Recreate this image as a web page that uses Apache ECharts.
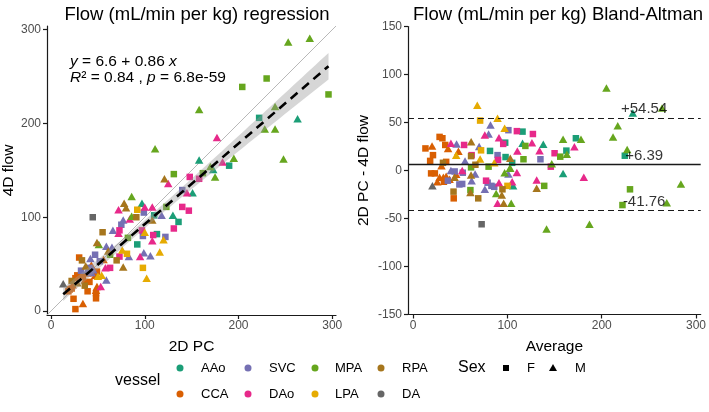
<!DOCTYPE html>
<html><head><meta charset="utf-8">
<script src="https://cdn.jsdelivr.net/npm/echarts@6/dist/echarts.min.js"></script>
<style>html,body{margin:0;padding:0;background:#fff}#c{width:709px;height:412px}</style>
</head><body><div id="c"></div>
<script>
// ---------- categories ----------
const vessels = ['AAo','CCA','SVC','DAo','MPA','LPA','RPA','DA'];
const vesselColors = ['#1B9E77','#D95F02','#7570B3','#E7298A','#66A61E','#E6AB02','#A6761D','#666666'];
const sexes = ['F','M'];
const regTicks = [0,100,200,300];
const baXTicks = [0,100,200,300];

// ---------- regression panel: 2D PC vs 4D flow ----------
const regPC = [253,276,230,204,296,158,239,222,263,228, 239,177,111,158,195,248,183,190,170,173,
 162,175,158,121,131,125,148,151,145,140, 86,97,100,108,123,78,80,72,92,140,
 147,110,130,86,84,77,91,99,108,118, 136,44.5,75,66,73,72,55,97,100,98,
 109,113,108,131,120,122,82,92,51,49, 59,65,61,63,76,81,73,70,83,95,
 99,106,116,63,58,98,102,77,59,30, 33,47,42,52,56,32,39,43,41,43,
 37,34,33,40,47,49,50,26,22,23, 36,41,39,18.5,22,49,48,48,48,53,
 24,34,26,13,28,45,54,36,20,28];
const regFlow = [287,291,248,239,231,215,218,206,205,194, 194,185,173,161,163,162,159,155,154,151,
 147,143,141,141,146,136,143,126,126,129, 122,115,111,111,111,115,110,108,108,111,
 107,102,102,101,98,97,100,105,97,102, 95,100,92,86,86,83,84,86,84,80,
 81,82,75,88,76,79,78,71,71,73, 69,68,64,60,65,61,58,54,58,58,
 62,59,63,46,46,46,35,47,33,57, 54,60,56,53,55,43,44,41,46,49,
 48,37,40,40,38,42,37,35,32,28, 27,31,21,21,24,26,22,19,13.5,26,
 13,8,2,29,38,44,38,33,23,30];
const regVessel = ['MPA','MPA','MPA','MPA','MPA','MPA','MPA','AAo','AAo','MPA',
 'MPA','DAo','MPA','AAo','MPA','MPA','DAo','AAo','MPA','AAo',
 'MPA','MPA','DAo','RPA','MPA','DAo','DAo','AAo','DAo','SVC',
 'MPA','AAo','DAo','DAo','MPA','RPA','RPA','DAo','LPA','DAo',
 'DAo','AAo','AAo','MPA','DAo','SVC','RPA','SVC','RPA','SVC',
 'AAo','DA','SVC','SVC','DAo','DAo','RPA','DAo','LPA','SVC',
 'DAo','AAo','DAo','DAo','LPA','SVC','MPA','AAo','MPA','RPA',
 'SVC','SVC','RPA','MPA','LPA','LPA','DAo','RPA','SVC','DAo',
 'SVC','SVC','LPA','DAo','DAo','LPA','LPA','RPA','SVC','CCA',
 'RPA','SVC','SVC','SVC','CCA','SVC','SVC','SVC','SVC','CCA',
 'RPA','CCA','CCA','CCA','CCA','CCA','LPA','CCA','RPA','CCA',
 'RPA','CCA','CCA','CCA','CCA','CCA','CCA','CCA','CCA','DAo',
 'CCA','CCA','CCA','DA','CCA','SVC','LPA','CCA','CCA','RPA'];
const regSex = ['M','M','F','F','F','M','M','F','M','M', 'M','M','M','M','M','M','M','F','M','M',
 'F','M','F','M','F','M','F','M','M','F', 'M','M','M','M','F','M','M','M','F','F',
 'F','F','M','M','M','M','F','F','M','M', 'F','F','F','M','F','M','F','F','M','F',
 'F','F','M','F','M','F','F','F','M','M', 'M','M','M','F','M','F','F','F','M','M',
 'M','M','M','F','M','F','M','M','M','F', 'F','F','M','F','M','F','M','M','F','M',
 'M','F','M','F','M','F','M','F','F','M', 'F','F','F','F','F','M','M','F','F','M',
 'F','M','F','M','F','M','M','M','F','M'];
const regIntercept = 6.6, regSlope = 0.86, regR2 = '0.84', regP = '6.8e-59';

// ---------- Bland-Altman panel: average vs difference ----------
const baAvg = [205,264,233,68,71,89.5,217,212,97,101, 82,80,76,110,116,127,31,13,20,34,
 37,40,46,61.5,91,95.5,97.6,70,72,81.5, 110.5,116,119,126,138,134,159,172.6,178,162.5,
 171,163,156,227,224.5,150,135,117,105,90, 102.5,80,146,147,54,62,89.5,103,18,28,
 21,31.6,35,45.6,61.4,71,19,23,28,32, 35,25.6,32.6,38.6,44,44,40,36.8,20.4,45.6,
 42.8,43,49,52,52.6,61.4,65.7,61.4,62,60.7, 60.7,69,72.6,77.3,76,79,83,86,88,89.5,
 96,94,91,94.7,97,100,103,101,105,106, 110,104,131,131,139,159,181,141.5,187,222,
 230,269,284,30,55,66,48,86,52,98];
const baDiff = [86,65,60,68,52,54.5,46.5,35,44,42, 47.5,38,37,41,40.5,38,33.6,23,25.6,26.6,
 23,28.4,27.7,30,34,27.7,29,25,21,20.4, 20.4,28.4,25.6,29,27.3,20.7,32.6,33.6,32.6,20.7,
 24.8,17,14.4,22,15.4,18,11.7,11.7,8,11, 2.3,4,4,7,26.6,16,16,12.7,10,35,
 16,8,9,16,15,12,-3,-3,-7,-7, -6,-11.7,-11.7,-9,-7,-1,0,-10.6,-16,-4,
 -22,-29,-14.5,-14,-2.3,-4.7,-3.6,3.3,-10.6,-23, -20.4,-29,-56,-10.6,-19.6,-12.7,-16,-17,-24,-34,
 -34,-25.6,-12.7,-19.6,-2.3,-16,2.3,-3.6,-11.7,-16, -2,-34,-10,-18.6,-16,-3,-7,-61,-56,-36,
 -19.6,-33.6,-14,5,10,6,20,8,0,14];
const baVessel = ['MPA','MPA','AAo','LPA','LPA','LPA','MPA','MPA','LPA','SVC',
 'SVC','SVC','DAo','DAo','AAo','DAo','CCA','CCA','CCA','CCA',
 'CCA','DAo','SVC','RPA','DAo','DAo','AAo','SVC','LPA','AAo',
 'DAo','AAo','MPA','DAo','AAo','DAo','MPA','AAo','MPA','AAo',
 'DAo','MPA','MPA','MPA','AAo','DAo','SVC','MPA','AAo','DAo',
 'MPA','MPA','DAo','MPA','DAo','DAo','SVC','RPA','CCA','CCA',
 'CCA','RPA','CCA','LPA','RPA','LPA','CCA','CCA','CCA','CCA',
 'CCA','CCA','CCA','CCA','RPA','SVC','SVC','SVC','DA','CCA',
 'RPA','CCA','SVC','SVC','SVC','RPA','SVC','MPA','SVC','RPA',
 'MPA','RPA','DA','DAo','SVC','SVC','SVC','SVC','MPA','DAo',
 'RPA','RPA','DAo','RPA','MPA','LPA','MPA','SVC','DAo','AAo',
 'DAo','MPA','DAo','RPA','MPA','AAo','DAo','MPA','MPA','MPA',
 'MPA','MPA','MPA','CCA','SVC','RPA','CCA','LPA','DAo','AAo'];
const baSex = ['M','M','M','M','F','M','M','M','M','F', 'M','M','M','F','F','F','F','F','M','F',
 'M','M','M','M','M','F','F','M','F','F', 'M','M','F','M','M','M','M','F','M','F',
 'M','M','F','M','F','F','F','F','F','F', 'M','F','F','M','F','F','F','M','F','F',
 'F','F','F','M','F','M','F','F','M','M', 'M','M','F','M','M','F','M','F','M','M',
 'F','F','F','F','F','M','M','F','M','M', 'F','F','F','F','M','F','F','F','M','M',
 'M','M','M','F','M','F','M','M','M','M', 'M','M','M','M','F','M','M','M','M','F',
 'F','M','M','M','M','F','M','M','M','F'];
const baMean = 6.39, baUpper = 54.54, baLower = -41.76;

// ---------- axis extents ----------
const regMin = -4.3, regMax = 304;
const baXMin = -5.5, baXMax = 305, baYMin = -150, baYMax = 150;

const FONT = 'Liberation Sans, Arial, sans-serif';
const symFor = s => s === 'F' ? 'rect' : 'triangle';
const sizeFor = s => s === 'F' ? [6.5, 6.5] : [8.5, 7.5];

function scatterSeries(xs, ys, vs, ss, axisIdx) {
  const out = [];
  vessels.forEach((v, vi) => {
    sexes.forEach(s => {
      const data = [];
      for (let i = 0; i < Math.min(xs.length, ys.length); i++) {
        if (vs[i] === v && ss[i] === s) data.push([xs[i], ys[i]]);
      }
      if (!data.length) return;
      out.push({
        type: 'scatter', name: v + ' ' + s, xAxisIndex: axisIdx, yAxisIndex: axisIdx,
        data, symbol: symFor(s), symbolSize: sizeFor(s), silent: true,
        itemStyle: { color: vesselColors[vi], opacity: 1 }, z: 3
      });
    });
  });
  return out;
}

// regression confidence band (from the data residuals about the fitted line)
const n = regPC.length;
const xbar = regPC.reduce((a, b) => a + b, 0) / n;
const Sxx = regPC.reduce((a, x) => a + (x - xbar) ** 2, 0);
const rss = regPC.reduce((a, x, i) => a + (regFlow[i] - (regIntercept + regSlope * x)) ** 2, 0);
const sRes = Math.sqrt(rss / (n - 2));
const tVal = 1.98;
const xLo = Math.min(...regPC), xHi = Math.max(...regPC);
const upperBand = [], lowerBand = [];
for (let k = 0; k <= 60; k++) {
  const x = xLo + (xHi - xLo) * k / 60;
  const yh = regIntercept + regSlope * x;
  const se = sRes * Math.sqrt(1 / n + (x - xbar) ** 2 / Sxx);
  upperBand.push([x, yh + tVal * se]);
  lowerBand.push([x, yh - tVal * se]);
}

const axisLineStyle = { color: '#1a1a1a', width: 1.2 };
function makeX(grid, min, max, ticks, name) {
  return {
    gridIndex: grid, type: 'value', min, max,
    axisLine: { onZero: false, lineStyle: axisLineStyle },
    axisTick: { customValues: ticks, length: 4, lineStyle: axisLineStyle },
    axisLabel: { customValues: ticks, color: '#4d4d4d', fontSize: 12, margin: 5, fontFamily: FONT },
    splitLine: { show: false },
    name, nameLocation: 'middle', nameGap: 24,
    nameTextStyle: { fontSize: 15.5, color: '#000', fontFamily: FONT }
  };
}

const chart = echarts.init(document.getElementById('c'), null, { renderer: 'canvas' });

const legendGraphics = [];
const colDot = [180, 248, 315, 381], colText = [201, 269, 335, 402], rowY = [368, 394];
legendGraphics.push({ type: 'text', x: 115, y: 381, style: { text: 'vessel', font: '16px ' + FONT, fill: '#000', verticalAlign: 'middle' } });
vessels.forEach((v, i) => {
  const c = Math.floor(i / 2), r = i % 2;
  legendGraphics.push({ type: 'circle', shape: { cx: colDot[c], cy: rowY[r], r: 3.5 }, style: { fill: vesselColors[i] } });
  legendGraphics.push({ type: 'text', x: colText[c], y: rowY[r], style: { text: v, font: '13px ' + FONT, fill: '#000', verticalAlign: 'middle' } });
});
legendGraphics.push({ type: 'text', x: 458, y: rowY[0], style: { text: 'Sex', font: '16px ' + FONT, fill: '#000', verticalAlign: 'middle' } });
legendGraphics.push({ type: 'rect', shape: { x: 503, y: rowY[0] - 3, width: 6, height: 6 }, style: { fill: '#000' } });
legendGraphics.push({ type: 'text', x: 527, y: rowY[0], style: { text: sexes[0], font: '13px ' + FONT, fill: '#000', verticalAlign: 'middle' } });
legendGraphics.push({ type: 'polygon', shape: { points: [[553, rowY[0] - 4], [557, rowY[0] + 3], [549, rowY[0] + 3]] }, style: { fill: '#000' } });
legendGraphics.push({ type: 'text', x: 575, y: rowY[0], style: { text: sexes[1], font: '13px ' + FONT, fill: '#000', verticalAlign: 'middle' } });

// regression equation annotation
legendGraphics.push({ type: 'text', x: 70, y: 62, style: {
  text: '{i|y} = ' + regIntercept + ' + ' + regSlope + ' {i|x}', font: '15.5px ' + FONT, fill: '#000', verticalAlign: 'middle',
  rich: { i: { fontStyle: 'italic', fontSize: 15.5, fontFamily: FONT } } } });
legendGraphics.push({ type: 'text', x: 70, y: 78, style: {
  text: '{i|R}\u00B2 = ' + regR2 + ' , {i|p} = ' + regP, font: '15.5px ' + FONT, fill: '#000', verticalAlign: 'middle',
  rich: { i: { fontStyle: 'italic', fontSize: 15.5, fontFamily: FONT } } } });

const fmtSigned = v => (v >= 0 ? '+' : '') + v.toFixed(2);

const option = {
  animation: false,
  backgroundColor: '#fff',
  textStyle: { fontFamily: FONT },
  title: [
    { text: 'Flow (mL/min per kg) regression', left: 192, top: 0, textAlign: 'center',
      textStyle: { fontSize: 18.5, fontWeight: 'normal', color: '#000', fontFamily: FONT } },
    { text: 'Flow (mL/min per kg) Bland-Altman', left: 553, top: 0, textAlign: 'center',
      textStyle: { fontSize: 18.5, fontWeight: 'normal', color: '#000', fontFamily: FONT } }
  ],
  grid: [
    { left: 47, top: 26, width: 289, height: 289 },
    { left: 408, top: 26.5, width: 295, height: 288 }
  ],
  xAxis: [
    makeX(0, regMin, regMax, regTicks, '2D PC'),
    makeX(1, baXMin, baXMax, baXTicks, 'Average')
  ],
  yAxis: [
    { gridIndex: 0, type: 'value', min: regMin, max: regMax,
      axisLine: { show: true, onZero: false, lineStyle: axisLineStyle },
      axisTick: { show: true, customValues: regTicks, length: 4, lineStyle: axisLineStyle },
      axisLabel: { customValues: regTicks, color: '#4d4d4d', fontSize: 12, margin: 6, fontFamily: FONT },
      splitLine: { show: false },
      name: '4D flow', nameLocation: 'middle', nameGap: 29,
      nameTextStyle: { fontSize: 15.5, color: '#000', fontFamily: FONT } },
    { gridIndex: 1, type: 'value', min: baYMin, max: baYMax, interval: 50,
      axisLine: { show: true, onZero: false, lineStyle: axisLineStyle },
      axisTick: { show: true, length: 4, lineStyle: axisLineStyle },
      axisLabel: { color: '#4d4d4d', fontSize: 12, margin: 6, fontFamily: FONT, showMinLabel: true, showMaxLabel: true },
      splitLine: { show: false },
      name: '2D PC - 4D flow', nameLocation: 'middle', nameGap: 36,
      nameTextStyle: { fontSize: 15.5, color: '#000', fontFamily: FONT } }
  ],
  series: [
    { type: 'line', xAxisIndex: 0, yAxisIndex: 0, data: [[regMin, regMin], [regMax, regMax]],
      symbol: 'none', silent: true, lineStyle: { color: '#b8b8b8', width: 1 }, z: 1 },
    ...scatterSeries(regPC, regFlow, regVessel, regSex, 0),
    { type: 'custom', xAxisIndex: 0, yAxisIndex: 0, silent: true, z: 4, data: [[xLo, regIntercept]],
      renderItem: (params, api) => {
        const pts = upperBand.map(p => api.coord(p)).concat(lowerBand.slice().reverse().map(p => api.coord(p)));
        return { type: 'polygon', shape: { points: pts }, style: { fill: 'rgba(153,153,153,0.4)' } };
      } },
    { type: 'line', xAxisIndex: 0, yAxisIndex: 0, silent: true, z: 5, symbol: 'none',
      data: [[xLo, regIntercept + regSlope * xLo], [xHi, regIntercept + regSlope * xHi]],
      lineStyle: { color: '#000', width: 2.6, type: [9, 6] } },
    ...scatterSeries(baAvg, baDiff, baVessel, baSex, 1),
    { type: 'scatter', xAxisIndex: 1, yAxisIndex: 1, silent: true, z: 6,
      symbol: 'circle', symbolSize: 1, itemStyle: { color: 'rgba(0,0,0,0)' },
      data: [[245, baUpper], [245, baMean], [245, baLower]],
      label: { show: true, position: 'inside', offset: [0, -9], formatter: p => fmtSigned(p.data[1]),
        color: '#000', fontSize: 15, fontFamily: FONT },
      markLine: { silent: true, symbol: ['none', 'none'], label: { show: false },
        data: [
          { yAxis: baUpper, lineStyle: { color: '#1a1a1a', width: 1.2, type: [6, 4] } },
          { yAxis: baMean, lineStyle: { color: '#1a1a1a', width: 1.3, type: 'solid' } },
          { yAxis: baLower, lineStyle: { color: '#1a1a1a', width: 1.2, type: [6, 4] } }
        ] } }
  ],
  graphic: legendGraphics
};
chart.setOption(option);
</script>
</body></html>
